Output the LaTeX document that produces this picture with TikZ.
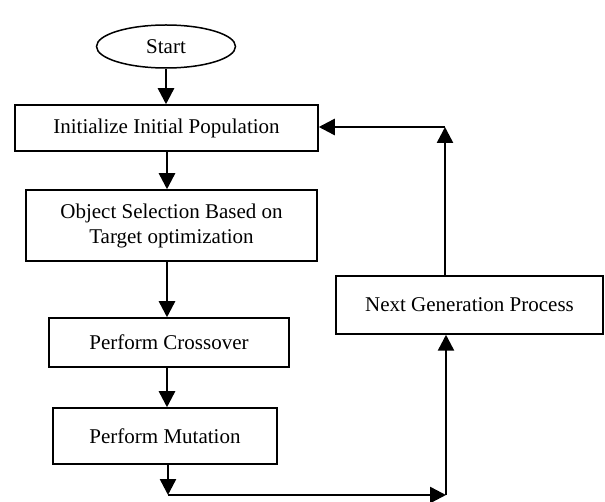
\documentclass[tikz,border=0pt]{standalone}
\usepackage{fontspec}
\setmainfont{Liberation Serif}
\usetikzlibrary{arrows.meta,shapes.geometric}
\begin{document}
\begin{tikzpicture}[x=1pt,y=-1pt,
  box/.style={draw,line width=1.5pt,rectangle,inner sep=0pt,font=\fontsize{21}{25}\selectfont,align=center},
  arr/.style={line width=2.5pt,-{Triangle[length=16pt,width=16pt]}},
  seg/.style={line width=2.5pt}]
\useasboundingbox (0,0) rectangle (605,502);
\node[box,ellipse,minimum width=139pt,minimum height=43pt] (start) at (166,46.5) {Start};
\node[box,minimum width=303pt,minimum height=46pt] (init) at (166.5,128) {Initialize Initial Population};
\node[box,minimum width=291pt,minimum height=71pt] (sel) at (171.5,225.5) {Object Selection Based on\\Target optimization};
\node[box,minimum width=240pt,minimum height=49pt] (cross) at (169,342.5) {Perform Crossover};
\node[box,minimum width=224pt,minimum height=56pt] (mut) at (165,436) {Perform Mutation};
\node[box,minimum width=267pt,minimum height=58pt] (next) at (469.5,305) {Next Generation Process};
\coordinate (bl) at (168,495);
\coordinate (br) at (446,495);
\coordinate (tr) at (445,127);
\draw[arr] (start.south) -- (start.south |- init.north);
\draw[arr] ([xshift=0.5pt]init.south) -- ([xshift=0.5pt]init.south |- sel.north);
\draw[arr] ([xshift=-4.5pt]sel.south) -- ([xshift=-4.5pt]sel.south |- cross.north);
\draw[arr] ([xshift=-2pt]cross.south) -- ([xshift=-2pt]cross.south |- mut.north);
\draw[arr] (bl |- mut.south) -- (bl);
\draw[arr] (bl) -- (br);
\draw[arr] (br) -- (br |- next.south);
\draw[arr] (tr |- next.north) -- (tr);
\draw[arr] (tr) -- (tr -| init.east);
\end{tikzpicture}
\end{document}
